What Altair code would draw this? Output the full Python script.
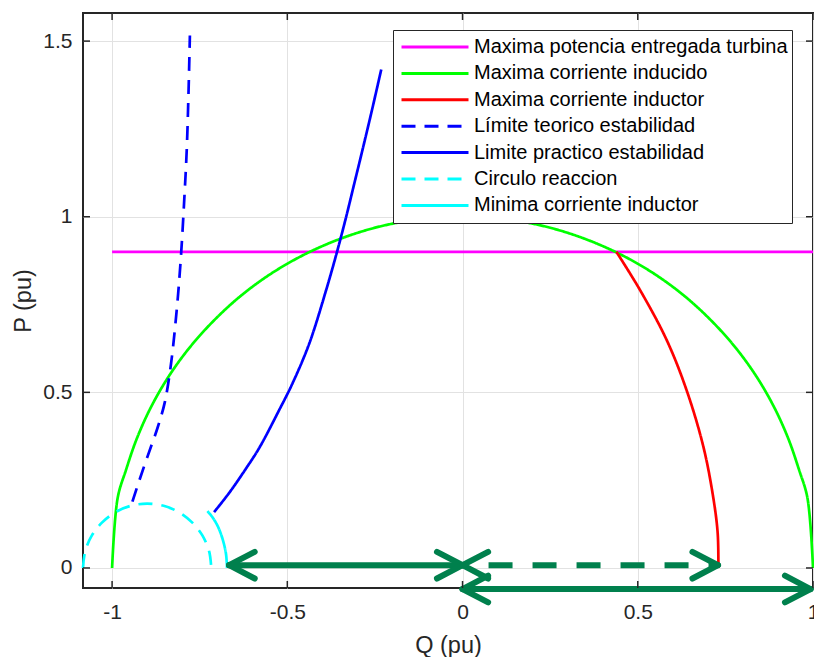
import altair as alt
import pandas as pd

# ---------------- data ----------------
series_names = [
    "Maxima potencia entregada turbina",
    "Maxima corriente inducido",
    "Maxima corriente inductor",
    "Límite teorico estabilidad",
    "Limite practico estabilidad",
    "Circulo reaccion",
    "Minima corriente inductor",
]
series_colors = ["#FF00FF", "#00FF00", "#FF0000", "#0000FF", "#0000FF", "#00FFFF", "#00FFFF"]
series_dashes = [[1, 0], [1, 0], [1, 0], [14, 9], [1, 0], [14, 9], [1, 0]]

q_turbine = [-1.0, 1.0]
p_turbine = [0.9, 0.9]

q_armature = [-1.0, -0.984, -0.96, -0.93, -0.89, -0.84, -0.78, -0.71, -0.63, -0.54, -0.44, -0.33,
              -0.22, -0.11, 0.0, 0.11, 0.22, 0.33, 0.44, 0.54, 0.63, 0.71, 0.78, 0.84, 0.89, 0.93,
              0.96, 0.984, 1.0]
p_armature = [0.0, 0.2, 0.28, 0.367, 0.456, 0.543, 0.626, 0.704, 0.777, 0.842, 0.898, 0.944,
              0.976, 0.994, 1.0, 0.994, 0.976, 0.944, 0.898, 0.842, 0.777, 0.704, 0.626, 0.543,
              0.456, 0.367, 0.28, 0.2, 0.0]

q_field_max = [0.439, 0.506, 0.582, 0.639, 0.687, 0.715, 0.728, 0.73]
p_field_max = [0.9, 0.792, 0.65, 0.507, 0.346, 0.203, 0.099, 0.0]

q_theor = [-0.942, -0.922, -0.898, -0.870, -0.850, -0.832, -0.816, -0.804, -0.794, -0.787, -0.782, -0.778]
p_theor = [0.189, 0.25, 0.32, 0.40, 0.47, 0.58, 0.73, 0.88, 1.05, 1.19, 1.35, 1.516]

q_pract = [-0.709, -0.665, -0.62, -0.58, -0.523, -0.485, -0.437, -0.389, -0.359, -0.332, -0.31, -0.288, -0.26, -0.232]
p_pract = [0.159, 0.215, 0.28, 0.342, 0.45, 0.526, 0.64, 0.792, 0.897, 1.0, 1.09, 1.18, 1.297, 1.419]

q_reaction = [-1.083, -1.077, -1.058, -1.029, -0.992, -0.947, -0.900, -0.853, -0.808, -0.771, -0.742, -0.723, -0.717]
p_reaction = [0.0, 0.047, 0.092, 0.129, 0.158, 0.177, 0.183, 0.177, 0.158, 0.129, 0.092, 0.047, 0.0]

q_field_min = [-0.728, -0.714, -0.698, -0.684, -0.675, -0.672]
p_field_min = [0.162, 0.145, 0.118, 0.08, 0.04, 0.0]

curves_q = [q_turbine, q_armature, q_field_max, q_theor, q_pract, q_reaction, q_field_min]
curves_p = [p_turbine, p_armature, p_field_max, p_theor, p_pract, p_reaction, p_field_min]

x_ticks = [-1, -0.5, 0, 0.5, 1]
y_ticks = [0, 0.5, 1, 1.5]
x_domain = [-1.083, 1.0]
y_domain = [-0.057, 1.58]

# annotation arrows (double headed)
arrow_q_start = [-0.666, 0.0, 0.0]
arrow_q_end = [0.0, 0.729, 0.993]
arrow_p = [0.008, 0.008, -0.06]
arrow_dashed = [False, True, False]
arrow_color = "#00804D"
head_dq = 0.073
head_dp = 0.038

# ---------------- tables ----------------
rows = []
for name, qs, ps in zip(series_names, curves_q, curves_p):
    for i, (q, p) in enumerate(zip(qs, ps)):
        rows.append({"series": name, "Q": q, "P": p, "i": i})
curves = pd.DataFrame(rows)

shafts = pd.DataFrame({"q1": arrow_q_start, "q2": arrow_q_end, "p1": arrow_p, "p2": arrow_p,
                       "dashed": arrow_dashed})
head_rows = []
for qs, qe, p in zip(arrow_q_start, arrow_q_end, arrow_p):
    for tip, d in ((qs, -1), (qe, 1)):
        for s in (1, -1):
            head_rows.append({"q1": tip, "p1": p, "q2": tip - d * head_dq, "p2": p + s * head_dp})
heads = pd.DataFrame(head_rows)

W, H = 730, 575
FONT = "Liberation Sans"
TXT = "#262626"

xscale = alt.Scale(domain=x_domain, nice=False, zero=False)
yscale = alt.Scale(domain=y_domain, nice=False, zero=False)
xaxis = alt.Axis(values=x_ticks, labelExpr="'' + datum.value", title="Q (pu)", grid=True,
                 gridColor="#e2e2e2", gridWidth=1, ticks=False, tickSize=0, domain=False,
                 labelFont=FONT, labelFontSize=21, labelColor=TXT, labelPadding=13,
                 labelFlush=False, labelOverlap=False,
                 titleFont=FONT, titleFontSize=23.5, titleFontWeight="normal", titleColor=TXT,
                 titleY=64, titleBaseline="alphabetic")
yaxis = alt.Axis(values=y_ticks, labelExpr="'' + datum.value", title="P (pu)", grid=True,
                 gridColor="#e2e2e2", gridWidth=1, ticks=False, tickSize=0, domain=False,
                 labelFont=FONT, labelFontSize=21, labelColor=TXT, labelPadding=11,
                 labelFlush=False, labelOverlap=False,
                 titleFont=FONT, titleFontSize=23.5, titleFontWeight="normal", titleColor=TXT,
                 titleX=-53, titleY=H / 2, titleBaseline="alphabetic")


def X(f):
    return alt.X(f"{f}:Q", scale=xscale, axis=xaxis, title="Q (pu)")


def Y(f):
    return alt.Y(f"{f}:Q", scale=yscale, axis=yaxis, title="P (pu)")


legend = alt.Legend(title=None, orient="none", legendX=310, legendY=17, symbolType="stroke",
                    symbolSize=4489, symbolStrokeWidth=3, symbolOffset=3, labelFont=FONT,
                    labelFontSize=20, labelColor="black", labelOffset=4, labelLimit=500,
                    clipHeight=26, rowPadding=0.4, padding=4, strokeColor="#262626",
                    fillColor="white")

lines = alt.Chart(curves).mark_line(strokeWidth=2.7, interpolate="catmull-rom").encode(
    x=X("Q"), y=Y("P"),
    color=alt.Color("series:N", scale=alt.Scale(domain=series_names, range=series_colors),
                    sort=series_names, legend=legend),
    strokeDash=alt.StrokeDash("series:N", scale=alt.Scale(domain=series_names, range=series_dashes),
                              sort=series_names, legend=legend),
    detail="series:N",
    order="i:Q",
)

solid_shafts = alt.Chart(shafts).transform_filter("!datum.dashed").mark_rule(
    color=arrow_color, strokeWidth=6, strokeCap="round").encode(
    x=X("q1"), x2="q2", y=Y("p1"), y2="p2")
dash_shafts = alt.Chart(shafts).transform_filter("datum.dashed").mark_rule(
    color=arrow_color, strokeWidth=6, strokeDash=[24, 20], strokeDashOffset=-26).encode(
    x=X("q1"), x2="q2", y=Y("p1"), y2="p2")
arrow_heads = alt.Chart(heads).mark_rule(
    color=arrow_color, strokeWidth=6, strokeCap="round").encode(
    x=X("q1"), x2="q2", y=Y("p1"), y2="p2")

xt = pd.DataFrame({"Q": x_ticks})
yt = pd.DataFrame({"P": y_ticks})
tick_style = dict(color=TXT, strokeWidth=1.5)
ticks_bottom = alt.Chart(xt).mark_rule(**tick_style).encode(x=X("Q"), y=alt.value(H), y2=alt.value(H - 7))
ticks_top = alt.Chart(xt).mark_rule(**tick_style).encode(x=X("Q"), y=alt.value(0), y2=alt.value(7))
ticks_left = alt.Chart(yt).mark_rule(**tick_style).encode(y=Y("P"), x=alt.value(0), x2=alt.value(7))
ticks_right = alt.Chart(yt).mark_rule(**tick_style).encode(y=Y("P"), x=alt.value(W), x2=alt.value(W - 7))

chart = alt.layer(
    lines, solid_shafts, dash_shafts, arrow_heads,
    ticks_bottom, ticks_top, ticks_left, ticks_right,
).properties(
    width=W, height=H,
    autosize=alt.AutoSizeParams(type="none"),
    padding={"left": 83, "top": 13, "right": 1, "bottom": 69},
    background="white",
).configure_view(stroke=TXT, strokeWidth=2)

chart.save("out.html", embed_options={"renderer": "svg", "actions": False})
